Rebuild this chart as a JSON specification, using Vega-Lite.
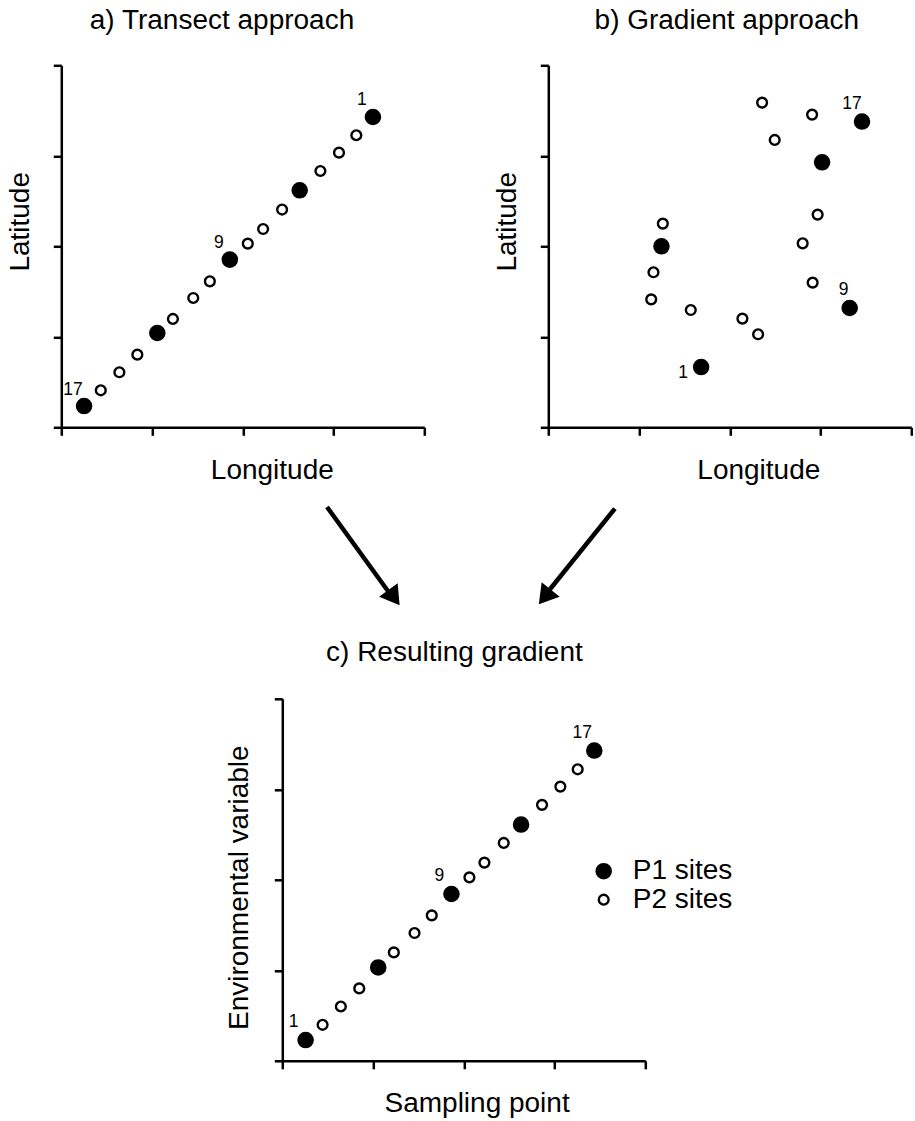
{
  "$schema": "https://vega.github.io/schema/vega-lite/v6.json",
  "background": "white",
  "padding": {"left": 6.3, "top": 6.3, "right": 0, "bottom": 0},
  "config": {
    "view": {"stroke": null},
    "font": "Liberation Sans",
    "axis": {
      "labels": false,
      "grid": false,
      "domainColor": "black",
      "domainWidth": 2.5,
      "tickColor": "black",
      "tickWidth": 2.5,
      "tickSize": 8,
      "titleFont": "Liberation Sans",
      "titleFontSize": 28,
      "titleFontWeight": "normal",
      "titleColor": "black",
      "titleAlign": "center",
      "titleBaseline": "alphabetic"
    },
    "title": {
      "font": "Liberation Sans",
      "fontSize": 28,
      "fontWeight": "normal",
      "color": "black",
      "anchor": "middle",
      "frame": "group",
      "baseline": "alphabetic"
    },
    "legend": {"padding": 0},
    "text": {"font": "Liberation Sans", "color": "black"}
  },
  "datasets": {
    "transect": [
      {"site": 1, "longitude": 3.434, "latitude": 3.429, "type": "P1 sites"},
      {"site": 2, "longitude": 3.251, "latitude": 3.227, "type": "P2 sites"},
      {"site": 3, "longitude": 3.060, "latitude": 3.035, "type": "P2 sites"},
      {"site": 4, "longitude": 2.855, "latitude": 2.832, "type": "P2 sites"},
      {"site": 5, "longitude": 2.627, "latitude": 2.619, "type": "P1 sites"},
      {"site": 6, "longitude": 2.433, "latitude": 2.406, "type": "P2 sites"},
      {"site": 7, "longitude": 2.224, "latitude": 2.191, "type": "P2 sites"},
      {"site": 8, "longitude": 2.055, "latitude": 2.030, "type": "P2 sites"},
      {"site": 9, "longitude": 1.857, "latitude": 1.853, "type": "P1 sites"},
      {"site": 10, "longitude": 1.637, "latitude": 1.613, "type": "P2 sites"},
      {"site": 11, "longitude": 1.454, "latitude": 1.429, "type": "P2 sites"},
      {"site": 12, "longitude": 1.230, "latitude": 1.197, "type": "P2 sites"},
      {"site": 13, "longitude": 1.058, "latitude": 1.042, "type": "P1 sites"},
      {"site": 14, "longitude": 0.838, "latitude": 0.803, "type": "P2 sites"},
      {"site": 15, "longitude": 0.640, "latitude": 0.608, "type": "P2 sites"},
      {"site": 16, "longitude": 0.435, "latitude": 0.409, "type": "P2 sites"},
      {"site": 17, "longitude": 0.251, "latitude": 0.235, "type": "P1 sites"}
    ],
    "gradient": [
      {"site": 1, "longitude": 1.684, "latitude": 0.666, "type": "P1 sites"},
      {"site": 2, "longitude": 1.570, "latitude": 1.296, "type": "P2 sites"},
      {"site": 3, "longitude": 1.134, "latitude": 1.414, "type": "P2 sites"},
      {"site": 4, "longitude": 1.159, "latitude": 1.713, "type": "P2 sites"},
      {"site": 5, "longitude": 1.247, "latitude": 2.000, "type": "P1 sites"},
      {"site": 6, "longitude": 1.262, "latitude": 2.251, "type": "P2 sites"},
      {"site": 7, "longitude": 2.139, "latitude": 1.201, "type": "P2 sites"},
      {"site": 8, "longitude": 2.312, "latitude": 1.028, "type": "P2 sites"},
      {"site": 9, "longitude": 3.321, "latitude": 1.318, "type": "P1 sites"},
      {"site": 10, "longitude": 2.913, "latitude": 1.599, "type": "P2 sites"},
      {"site": 11, "longitude": 2.803, "latitude": 2.033, "type": "P2 sites"},
      {"site": 12, "longitude": 2.968, "latitude": 2.350, "type": "P2 sites"},
      {"site": 13, "longitude": 3.017, "latitude": 2.928, "type": "P1 sites"},
      {"site": 14, "longitude": 2.495, "latitude": 3.175, "type": "P2 sites"},
      {"site": 15, "longitude": 2.356, "latitude": 3.588, "type": "P2 sites"},
      {"site": 16, "longitude": 2.907, "latitude": 3.455, "type": "P2 sites"},
      {"site": 17, "longitude": 3.457, "latitude": 3.378, "type": "P1 sites"}
    ],
    "resulting": [
      {"site": 1, "sampling_point": 0.257, "env_variable": 0.229, "type": "P1 sites"},
      {"site": 2, "sampling_point": 0.444, "env_variable": 0.398, "type": "P2 sites"},
      {"site": 3, "sampling_point": 0.645, "env_variable": 0.600, "type": "P2 sites"},
      {"site": 4, "sampling_point": 0.848, "env_variable": 0.800, "type": "P2 sites"},
      {"site": 5, "sampling_point": 1.057, "env_variable": 1.032, "type": "P1 sites"},
      {"site": 6, "sampling_point": 1.229, "env_variable": 1.198, "type": "P2 sites"},
      {"site": 7, "sampling_point": 1.457, "env_variable": 1.412, "type": "P2 sites"},
      {"site": 8, "sampling_point": 1.647, "env_variable": 1.607, "type": "P2 sites"},
      {"site": 9, "sampling_point": 1.864, "env_variable": 1.843, "type": "P1 sites"},
      {"site": 10, "sampling_point": 2.062, "env_variable": 2.027, "type": "P2 sites"},
      {"site": 11, "sampling_point": 2.227, "env_variable": 2.190, "type": "P2 sites"},
      {"site": 12, "sampling_point": 2.440, "env_variable": 2.407, "type": "P2 sites"},
      {"site": 13, "sampling_point": 2.631, "env_variable": 2.610, "type": "P1 sites"},
      {"site": 14, "sampling_point": 2.862, "env_variable": 2.828, "type": "P2 sites"},
      {"site": 15, "sampling_point": 3.064, "env_variable": 3.030, "type": "P2 sites"},
      {"site": 16, "sampling_point": 3.255, "env_variable": 3.221, "type": "P2 sites"},
      {"site": 17, "sampling_point": 3.438, "env_variable": 3.428, "type": "P1 sites"}
    ],
    "arrows": [
      {"arrow": "from a", "x": 2.928, "y": -0.881, "x2": 3.625, "y2": -1.845, "xt": 3.728, "yt": -1.967},
      {"arrow": "from b", "x": 0.734, "y": -0.898, "x2": -0.008, "y2": -1.823, "xt": -0.104, "yt": -1.956}
    ]
  },
  "resolve": {"scale": {"fill": "independent", "size": "independent", "stroke": "independent"}, "legend": {"fill": "independent", "size": "independent", "stroke": "independent"}},
  "spacing": 31.5,
  "vconcat": [
    {
      "bounds": "flush",
      "spacing": 124,
      "resolve": {"scale": {"fill": "independent", "size": "independent", "stroke": "independent"}, "legend": {"fill": "independent", "size": "independent", "stroke": "independent"}},
      "hconcat": [
        {
          "width": 363,
          "height": 362,
          "title": {"text": "a) Transect approach", "frame": "group", "dx": -20.8, "offset": 29.5},
          "layer": [
            {
              "data": {"name": "transect"},
              "encoding": {
                "x": {"field": "longitude", "type": "quantitative", "title": "Longitude", "scale": {"domain": [0, 4], "nice": false, "zero": false}, "axis": {"title": "Longitude", "values": [0, 1, 2, 3, 4], "titleX": 210.5, "titleY": 51}},
                "y": {"field": "latitude", "type": "quantitative", "title": "Latitude", "scale": {"domain": [0, 4], "nice": false, "zero": false}, "axis": {"title": "Latitude", "values": [0, 1, 2, 3, 4], "titleX": -32.7, "titleY": 156}}
              },
              "layer": [
                {
                  "mark": {"type": "point", "shape": "circle", "filled": true, "stroke": "black", "strokeWidth": 2.4, "opacity": 1},
                  "encoding": {
                    "fill": {"field": "type", "type": "nominal", "scale": {"domain": ["P1 sites", "P2 sites"], "range": ["black", "white"]}, "legend": null},
                    "size": {"field": "type", "type": "nominal", "scale": {"type": "ordinal", "domain": ["P1 sites", "P2 sites"], "range": [200, 96]}, "legend": null}
                  }
                },
                {
                  "transform": [{"filter": "datum.site == 1 || datum.site == 9 || datum.site == 17"}],
                  "mark": {"type": "text", "dx": -11, "dy": -11.5, "align": "center", "baseline": "alphabetic", "fontSize": 17.5},
                  "encoding": {"text": {"field": "site", "type": "nominal"}}
                }
              ]
            },
            {
              "data": {"name": "arrows"},
              "transform": [{"filter": "datum.arrow == 'from a'"}],
              "mark": {"type": "rule", "strokeWidth": 4.5, "color": "black", "strokeCap": "butt"},
              "encoding": {
                "x": {"field": "x", "type": "quantitative", "title": "Longitude", "scale": {"domain": [0, 4], "nice": false, "zero": false}},
                "y": {"field": "y", "type": "quantitative", "title": "Latitude", "scale": {"domain": [0, 4], "nice": false, "zero": false}},
                "x2": {"field": "x2"},
                "y2": {"field": "y2"}
              }
            },
            {
              "data": {"name": "arrows"},
              "transform": [{"filter": "datum.arrow == 'from a'"}],
              "mark": {"type": "point", "shape": "M0,0L0.96,1.58L-0.96,1.58Z", "size": 576, "filled": true, "fill": "black", "strokeWidth": 0, "opacity": 1, "angle": 143.7},
              "encoding": {
                "x": {"field": "xt", "type": "quantitative", "title": "Longitude", "scale": {"domain": [0, 4], "nice": false, "zero": false}},
                "y": {"field": "yt", "type": "quantitative", "title": "Latitude", "scale": {"domain": [0, 4], "nice": false, "zero": false}}
              }
            }
          ]
        },
        {
          "width": 363,
          "height": 362,
          "title": {"text": "b) Gradient approach", "frame": "group", "dx": -3, "offset": 29.5},
          "layer": [
            {
              "data": {"name": "gradient"},
              "encoding": {
                "x": {"field": "longitude", "type": "quantitative", "title": "Longitude", "scale": {"domain": [0, 4], "nice": false, "zero": false}, "axis": {"title": "Longitude", "values": [0, 1, 2, 3, 4], "titleX": 210, "titleY": 51}},
                "y": {"field": "latitude", "type": "quantitative", "title": "Latitude", "scale": {"domain": [0, 4], "nice": false, "zero": false}, "axis": {"title": "Latitude", "values": [0, 1, 2, 3, 4], "titleX": -32.7, "titleY": 156}}
              },
              "layer": [
                {
                  "mark": {"type": "point", "shape": "circle", "filled": true, "stroke": "black", "strokeWidth": 2.4, "opacity": 1},
                  "encoding": {
                    "fill": {"field": "type", "type": "nominal", "scale": {"domain": ["P1 sites", "P2 sites"], "range": ["black", "white"]}, "legend": null},
                    "size": {"field": "type", "type": "nominal", "scale": {"type": "ordinal", "domain": ["P1 sites", "P2 sites"], "range": [200, 96]}, "legend": null}
                  }
                },
                {
                  "transform": [{"filter": "datum.site == 17"}],
                  "mark": {"type": "text", "dx": -10, "dy": -13, "align": "center", "baseline": "alphabetic", "fontSize": 17.5},
                  "encoding": {"text": {"field": "site", "type": "nominal"}}
                },
                {
                  "transform": [{"filter": "datum.site == 9"}],
                  "mark": {"type": "text", "dx": -6, "dy": -13, "align": "center", "baseline": "alphabetic", "fontSize": 17.5},
                  "encoding": {"text": {"field": "site", "type": "nominal"}}
                },
                {
                  "transform": [{"filter": "datum.site == 1"}],
                  "mark": {"type": "text", "dx": -18, "dy": 11, "align": "center", "baseline": "alphabetic", "fontSize": 17.5},
                  "encoding": {"text": {"field": "site", "type": "nominal"}}
                }
              ]
            },
            {
              "data": {"name": "arrows"},
              "transform": [{"filter": "datum.arrow == 'from b'"}],
              "mark": {"type": "rule", "strokeWidth": 4.5, "color": "black", "strokeCap": "butt"},
              "encoding": {
                "x": {"field": "x", "type": "quantitative", "title": "Longitude", "scale": {"domain": [0, 4], "nice": false, "zero": false}},
                "y": {"field": "y", "type": "quantitative", "title": "Latitude", "scale": {"domain": [0, 4], "nice": false, "zero": false}},
                "x2": {"field": "x2"},
                "y2": {"field": "y2"}
              }
            },
            {
              "data": {"name": "arrows"},
              "transform": [{"filter": "datum.arrow == 'from b'"}],
              "mark": {"type": "point", "shape": "M0,0L0.96,1.58L-0.96,1.58Z", "size": 576, "filled": true, "fill": "black", "strokeWidth": 0, "opacity": 1, "angle": 218.5},
              "encoding": {
                "x": {"field": "xt", "type": "quantitative", "title": "Longitude", "scale": {"domain": [0, 4], "nice": false, "zero": false}},
                "y": {"field": "yt", "type": "quantitative", "title": "Latitude", "scale": {"domain": [0, 4], "nice": false, "zero": false}}
              }
            }
          ]
        }
      ]
    },
    {
      "bounds": "flush",
      "spacing": 20,
      "resolve": {"scale": {"fill": "independent", "size": "independent", "stroke": "independent"}, "legend": {"fill": "independent", "size": "independent", "stroke": "independent"}},
      "hconcat": [
        {
          "width": 200.7,
          "height": 362,
          "data": {"values": []},
          "mark": "point"
        },
        {
          "width": 363,
          "height": 362,
          "title": {"text": "c) Resulting gradient", "frame": "group", "dx": -9.4, "offset": 31},
          "data": {"name": "resulting"},
          "encoding": {
            "x": {"field": "sampling_point", "type": "quantitative", "scale": {"domain": [0, 4], "nice": false, "zero": false}, "axis": {"title": "Sampling point", "values": [0, 1, 2, 3, 4], "titleX": 194.3, "titleY": 51}},
            "y": {"field": "env_variable", "type": "quantitative", "scale": {"domain": [0, 4], "nice": false, "zero": false}, "axis": {"title": "Environmental variable", "values": [0, 1, 2, 3, 4], "titleX": -35, "titleY": 188.4}}
          },
          "layer": [
            {
              "mark": {"type": "point", "shape": "circle", "filled": true, "stroke": "black", "strokeWidth": 2.4, "opacity": 1},
              "encoding": {
                "fill": {"field": "type", "type": "nominal", "scale": {"domain": ["P1 sites", "P2 sites"], "range": ["black", "white"]},
                  "legend": {"title": null, "orient": "none", "legendX": 307.4, "legendY": 158.4, "labelFontSize": 28, "labelFont": "Liberation Sans", "labelColor": "black", "labelOffset": 15.1, "symbolType": "circle", "symbolStrokeColor": "black", "symbolStrokeWidth": 2.4, "symbolOffset": 0, "rowPadding": 0.5}},
                "stroke": {"field": "type", "type": "nominal", "scale": {"domain": ["P1 sites", "P2 sites"], "range": ["black", "black"]},
                  "legend": {"title": null, "orient": "none", "legendX": 307.4, "legendY": 158.4, "labelFontSize": 28, "labelFont": "Liberation Sans", "labelColor": "black", "labelOffset": 15.1, "symbolType": "circle", "symbolStrokeColor": "black", "symbolStrokeWidth": 2.4, "symbolOffset": 0, "rowPadding": 0.5}},
                "size": {"field": "type", "type": "nominal", "scale": {"type": "ordinal", "domain": ["P1 sites", "P2 sites"], "range": [200, 96]},
                  "legend": {"title": null, "orient": "none", "legendX": 307.4, "legendY": 158.4, "labelFontSize": 28, "labelFont": "Liberation Sans", "labelColor": "black", "labelOffset": 15.1, "symbolType": "circle", "symbolStrokeColor": "black", "symbolStrokeWidth": 2.4, "symbolOffset": 0, "rowPadding": 0.5}}
              }
            },
            {
              "transform": [{"filter": "datum.site == 1 || datum.site == 9 || datum.site == 17"}],
              "mark": {"type": "text", "dx": -12, "dy": -13, "align": "center", "baseline": "alphabetic", "fontSize": 17.5},
              "encoding": {"text": {"field": "site", "type": "nominal"}}
            }
          ]
        }
      ]
    }
  ]
}
